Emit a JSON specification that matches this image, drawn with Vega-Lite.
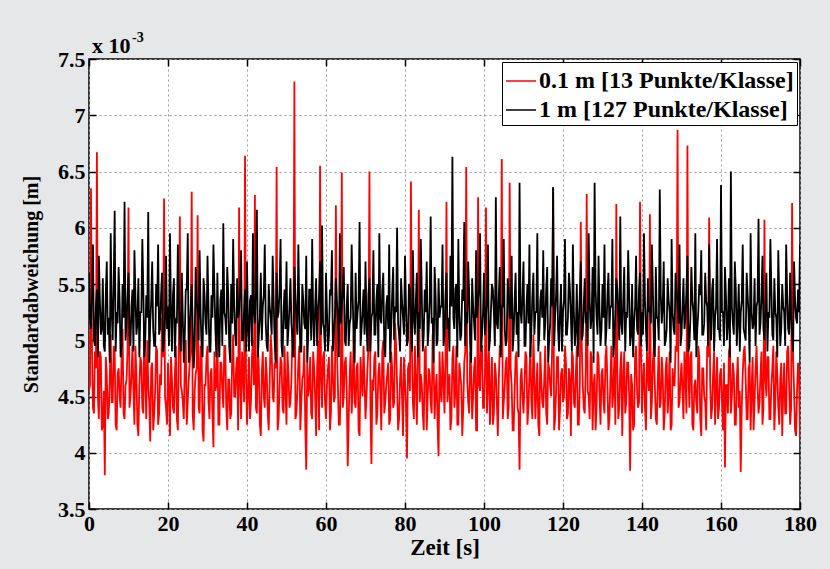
{
"$schema": "https://vega.github.io/schema/vega-lite/v6.json",
"width": 711, "height": 450,
"autosize": {"type": "none"},
"padding": {"left": 89, "top": 59, "right": 30, "bottom": 60},
"background": "#e6e7e9",
"config": {"view": {"fill": "white", "stroke": "black", "strokeWidth": 1.5}, "font": "Liberation Serif"},
"resolve": {"axis": {"x": "independent", "y": "independent"}},
"layer": [
{
"data": {"values": [
{"t":0,"r":4.55,"b":5.60},{"t":0.25,"r":4.60,"b":5.20},{"t":0.5,"r":6.35,"b":5.10},{"t":0.75,"r":4.95,"b":5.45},{"t":1,"r":4.40,"b":5.85},{"t":1.25,"r":4.35,"b":5.00},{"t":1.5,"r":4.90,"b":4.95},{"t":1.75,"r":4.75,"b":5.30},{"t":2,"r":6.67,"b":5.45},{"t":2.25,"r":4.50,"b":4.85},
{"t":2.5,"r":4.30,"b":5.75},{"t":2.75,"r":4.90,"b":5.35},{"t":3,"r":4.85,"b":5.05},{"t":3.25,"r":4.20,"b":5.10},{"t":3.5,"r":4.25,"b":5.55},{"t":3.75,"r":4.55,"b":4.95},{"t":4,"r":3.80,"b":4.90},{"t":4.25,"r":4.85,"b":5.40},{"t":4.5,"r":4.70,"b":5.70},{"t":4.75,"r":4.30,"b":5.05},
{"t":5,"r":4.35,"b":5.20},{"t":5.25,"r":4.65,"b":4.80},{"t":5.5,"r":5.05,"b":5.95},{"t":5.75,"r":4.45,"b":5.25},{"t":6,"r":4.45,"b":5.00},{"t":6.25,"r":4.95,"b":5.50},{"t":6.5,"r":4.90,"b":6.15},{"t":6.75,"r":4.25,"b":4.90},{"t":7,"r":4.20,"b":5.25},{"t":7.25,"r":4.70,"b":5.15},
{"t":7.5,"r":4.75,"b":5.65},{"t":7.75,"r":4.50,"b":5.35},{"t":8,"r":4.40,"b":4.85},{"t":8.25,"r":4.85,"b":4.95},{"t":8.5,"r":5.10,"b":5.50},{"t":8.75,"r":4.35,"b":5.20},{"t":9,"r":4.30,"b":6.23},{"t":9.25,"r":4.60,"b":5.00},{"t":9.5,"r":4.65,"b":5.15},{"t":9.75,"r":4.90,"b":5.40},
{"t":10,"r":6.18,"b":5.60},{"t":10.25,"r":4.40,"b":5.05},{"t":10.5,"r":4.50,"b":4.95},{"t":10.75,"r":4.70,"b":5.30},{"t":11,"r":4.95,"b":5.45},{"t":11.25,"r":4.55,"b":4.90},{"t":11.5,"r":4.25,"b":5.80},{"t":11.75,"r":4.95,"b":5.40},{"t":12,"r":4.70,"b":5.05},{"t":12.25,"r":4.25,"b":5.15},
{"t":12.5,"r":4.15,"b":5.55},{"t":12.75,"r":4.60,"b":4.85},{"t":13,"r":4.85,"b":5.25},{"t":13.25,"r":4.80,"b":5.25},{"t":13.5,"r":4.40,"b":5.90},{"t":13.75,"r":4.35,"b":5.45},{"t":14,"r":5.15,"b":4.85},{"t":14.25,"r":4.65,"b":5.00},{"t":14.5,"r":4.30,"b":5.40},{"t":14.75,"r":5.00,"b":5.20},
{"t":15,"r":4.60,"b":6.14},{"t":15.25,"r":4.45,"b":4.80},{"t":15.5,"r":4.10,"b":5.15},{"t":15.75,"r":4.75,"b":5.35},{"t":16,"r":4.80,"b":5.70},{"t":16.25,"r":4.20,"b":5.10},{"t":16.5,"r":4.35,"b":4.95},{"t":16.75,"r":4.55,"b":4.95},{"t":17,"r":4.95,"b":5.50},{"t":17.25,"r":4.90,"b":5.30},
{"t":17.5,"r":4.25,"b":5.85},{"t":17.75,"r":4.35,"b":5.05},{"t":18,"r":4.70,"b":5.10},{"t":18.25,"r":4.60,"b":5.40},{"t":18.5,"r":5.20,"b":5.60},{"t":18.75,"r":4.85,"b":4.90},{"t":19,"r":6.26,"b":5.00},{"t":19.25,"r":4.50,"b":5.20},{"t":19.5,"r":4.40,"b":5.75},{"t":19.75,"r":4.25,"b":5.10},
{"t":20,"r":4.80,"b":5.30},{"t":20.25,"r":4.55,"b":4.95},{"t":20.5,"r":4.15,"b":5.95},{"t":20.75,"r":4.85,"b":5.25},{"t":21,"r":4.65,"b":4.90},{"t":21.25,"r":4.40,"b":5.40},{"t":21.5,"r":4.35,"b":5.55},{"t":21.75,"r":4.70,"b":4.85},{"t":22,"r":4.95,"b":5.20},{"t":22.25,"r":4.30,"b":5.15},
{"t":22.5,"r":4.20,"b":5.85},{"t":22.75,"r":4.95,"b":5.35},{"t":23,"r":6.10,"b":5.05},{"t":23.25,"r":4.60,"b":4.90},{"t":23.5,"r":4.55,"b":5.60},{"t":23.75,"r":4.45,"b":5.20},{"t":24,"r":4.30,"b":4.80},{"t":24.25,"r":4.80,"b":5.05},{"t":24.5,"r":5.00,"b":5.45},{"t":24.75,"r":4.25,"b":5.45},
{"t":25,"r":4.45,"b":5.95},{"t":25.25,"r":4.65,"b":4.80},{"t":25.5,"r":4.80,"b":5.10},{"t":25.75,"r":4.90,"b":5.30},{"t":26,"r":6.32,"b":5.50},{"t":26.25,"r":4.35,"b":5.10},{"t":26.5,"r":4.20,"b":4.75},{"t":26.75,"r":4.55,"b":4.95},{"t":27,"r":4.70,"b":5.65},{"t":27.25,"r":4.75,"b":5.35},
{"t":27.5,"r":6.11,"b":5.25},{"t":27.75,"r":4.40,"b":5.00},{"t":28,"r":4.35,"b":5.80},{"t":28.25,"r":4.95,"b":5.25},{"t":28.5,"r":4.90,"b":4.95},{"t":28.75,"r":4.20,"b":4.85},{"t":29,"r":4.10,"b":5.55},{"t":29.25,"r":4.60,"b":5.40},{"t":29.5,"r":4.60,"b":5.15},{"t":29.75,"r":4.85,"b":5.05},
{"t":30,"r":4.95,"b":5.75},{"t":30.25,"r":4.45,"b":5.30},{"t":30.5,"r":4.30,"b":4.90},{"t":30.75,"r":4.70,"b":4.90},{"t":31,"r":4.75,"b":5.40},{"t":31.25,"r":4.35,"b":5.20},{"t":31.5,"r":4.05,"b":5.85},{"t":31.75,"r":4.90,"b":5.45},{"t":32,"r":4.55,"b":5.10},{"t":32.25,"r":4.60,"b":4.85},
{"t":32.5,"r":5.10,"b":5.60},{"t":32.75,"r":4.25,"b":5.10},{"t":33,"r":4.25,"b":4.85},{"t":33.25,"r":4.80,"b":5.35},{"t":33.5,"r":4.80,"b":5.45},{"t":33.75,"r":4.55,"b":4.95},{"t":34,"r":4.40,"b":6.04},{"t":34.25,"r":4.95,"b":5.25},{"t":34.5,"r":4.95,"b":5.20},{"t":34.75,"r":4.40,"b":5.05},
{"t":35,"r":4.20,"b":5.65},{"t":35.25,"r":4.65,"b":5.40},{"t":35.5,"r":4.65,"b":4.95},{"t":35.75,"r":4.30,"b":4.80},{"t":36,"r":4.35,"b":5.50},{"t":36.25,"r":4.85,"b":5.15},{"t":36.5,"r":5.05,"b":5.90},{"t":36.75,"r":4.50,"b":5.30},{"t":37,"r":4.50,"b":5.05},{"t":37.25,"r":4.75,"b":4.95},
{"t":37.5,"r":4.85,"b":5.55},{"t":37.75,"r":4.20,"b":5.20},{"t":38,"r":6.18,"b":5.25},{"t":38.25,"r":4.60,"b":5.45},{"t":38.5,"r":4.30,"b":5.80},{"t":38.75,"r":4.90,"b":5.00},{"t":39,"r":4.70,"b":5.00},{"t":39.25,"r":4.45,"b":5.25},{"t":39.5,"r":6.64,"b":5.45},{"t":39.75,"r":4.70,"b":4.90},
{"t":40,"r":4.25,"b":5.70},{"t":40.25,"r":4.55,"b":5.10},{"t":40.5,"r":4.85,"b":4.90},{"t":40.75,"r":4.30,"b":5.35},{"t":41,"r":4.45,"b":5.40},{"t":41.25,"r":4.85,"b":4.95},{"t":41.5,"r":5.00,"b":5.95},{"t":41.75,"r":4.60,"b":5.25},{"t":42,"r":6.29,"b":5.15},{"t":42.25,"r":4.40,"b":5.45},
{"t":42.5,"r":4.35,"b":6.16},{"t":42.75,"r":4.95,"b":4.85},{"t":43,"r":4.75,"b":5.05},{"t":43.25,"r":4.25,"b":5.20},{"t":43.5,"r":4.15,"b":5.60},{"t":43.75,"r":4.70,"b":5.00},{"t":44,"r":4.90,"b":5.30},{"t":44.25,"r":4.50,"b":5.40},{"t":44.5,"r":4.40,"b":5.85},{"t":44.75,"r":4.85,"b":5.15},
{"t":45,"r":4.70,"b":4.95},{"t":45.25,"r":4.35,"b":4.90},{"t":45.5,"r":4.20,"b":5.50},{"t":45.75,"r":4.65,"b":5.30},{"t":46,"r":5.05,"b":5.20},{"t":46.25,"r":4.90,"b":5.05},{"t":46.5,"r":4.50,"b":5.75},{"t":46.75,"r":4.45,"b":5.35},{"t":47,"r":4.80,"b":5.00},{"t":47.25,"r":4.75,"b":4.80},
{"t":47.5,"r":6.54,"b":5.60},{"t":47.75,"r":4.20,"b":5.20},{"t":48,"r":4.30,"b":5.25},{"t":48.25,"r":4.60,"b":5.45},{"t":48.5,"r":4.85,"b":5.90},{"t":48.75,"r":4.80,"b":4.95},{"t":49,"r":4.40,"b":4.85},{"t":49.25,"r":4.35,"b":5.25},{"t":49.5,"r":4.95,"b":5.45},{"t":49.75,"r":4.55,"b":5.10},
{"t":50,"r":4.25,"b":5.70},{"t":50.25,"r":4.90,"b":4.95},{"t":50.5,"r":4.70,"b":5.10},{"t":50.75,"r":4.40,"b":5.30},{"t":51,"r":4.45,"b":5.55},{"t":51.25,"r":4.65,"b":5.15},{"t":51.5,"r":5.10,"b":5.00},{"t":51.75,"r":4.85,"b":4.85},{"t":52,"r":7.30,"b":5.65},{"t":52.25,"r":4.30,"b":5.40},
{"t":52.5,"r":4.35,"b":5.20},{"t":52.75,"r":4.55,"b":5.05},{"t":53,"r":4.80,"b":5.85},{"t":53.25,"r":4.95,"b":5.25},{"t":53.5,"r":4.20,"b":4.90},{"t":53.75,"r":4.45,"b":4.90},{"t":54,"r":4.65,"b":5.50},{"t":54.25,"r":4.70,"b":5.35},{"t":54.5,"r":4.95,"b":5.15},{"t":54.75,"r":4.25,"b":5.10},
{"t":55,"r":3.85,"b":5.75},{"t":55.25,"r":4.80,"b":4.80},{"t":55.5,"r":4.50,"b":5.05},{"t":55.75,"r":4.60,"b":5.45},{"t":56,"r":4.85,"b":5.45},{"t":56.25,"r":4.35,"b":5.00},{"t":56.5,"r":4.30,"b":5.90},{"t":56.75,"r":4.90,"b":5.20},{"t":57,"r":4.75,"b":4.95},{"t":57.25,"r":4.50,"b":5.30},
{"t":57.5,"r":4.15,"b":5.55},{"t":57.75,"r":4.75,"b":4.95},{"t":58,"r":5.00,"b":5.25},{"t":58.25,"r":4.20,"b":5.40},{"t":58.5,"r":6.55,"b":5.70},{"t":58.75,"r":4.65,"b":5.05},{"t":59,"r":4.40,"b":6.02},{"t":59.25,"r":4.85,"b":5.15},{"t":59.5,"r":4.90,"b":5.10},{"t":59.75,"r":4.45,"b":4.90},
{"t":60,"r":4.30,"b":5.60},{"t":60.25,"r":4.60,"b":5.25},{"t":60.5,"r":4.75,"b":4.90},{"t":60.75,"r":4.85,"b":5.05},{"t":61,"r":4.20,"b":5.45},{"t":61.25,"r":4.35,"b":5.40},{"t":61.5,"r":4.95,"b":5.80},{"t":61.75,"r":4.70,"b":4.90},{"t":62,"r":4.45,"b":5.05},{"t":62.25,"r":4.50,"b":5.20},
{"t":62.5,"r":6.20,"b":5.55},{"t":62.75,"r":4.95,"b":5.35},{"t":63,"r":4.60,"b":5.20},{"t":63.25,"r":4.25,"b":4.85},{"t":63.5,"r":4.25,"b":5.95},{"t":63.75,"r":4.65,"b":5.15},{"t":64,"r":6.49,"b":5.30},{"t":64.25,"r":4.40,"b":5.45},{"t":64.5,"r":4.50,"b":5.65},{"t":64.75,"r":4.80,"b":5.00},
{"t":65,"r":4.85,"b":4.95},{"t":65.25,"r":4.55,"b":5.30},{"t":65.5,"r":3.88,"b":5.50},{"t":65.75,"r":4.30,"b":4.95},{"t":66,"r":4.70,"b":5.15},{"t":66.25,"r":4.90,"b":5.20},{"t":66.5,"r":4.35,"b":5.85},{"t":66.75,"r":4.60,"b":5.40},{"t":67,"r":5.05,"b":5.00},{"t":67.25,"r":4.45,"b":4.80},
{"t":67.5,"r":4.40,"b":5.60},{"t":67.75,"r":4.75,"b":5.10},{"t":68,"r":4.80,"b":5.25},{"t":68.25,"r":4.20,"b":5.35},{"t":68.5,"r":4.15,"b":6.05},{"t":68.75,"r":4.85,"b":4.95},{"t":69,"r":4.65,"b":5.10},{"t":69.25,"r":4.50,"b":5.25},{"t":69.5,"r":4.95,"b":5.45},{"t":69.75,"r":4.65,"b":5.05},
{"t":70,"r":4.30,"b":5.70},{"t":70.25,"r":4.50,"b":5.15},{"t":70.5,"r":4.75,"b":4.90},{"t":70.75,"r":4.95,"b":5.40},{"t":71,"r":6.50,"b":5.55},{"t":71.25,"r":4.40,"b":4.90},{"t":71.5,"r":3.90,"b":5.20},{"t":71.75,"r":4.65,"b":5.25},{"t":72,"r":4.55,"b":5.80},{"t":72.25,"r":4.85,"b":5.05},
{"t":72.5,"r":4.90,"b":5.05},{"t":72.75,"r":4.25,"b":5.35},{"t":73,"r":4.35,"b":5.50},{"t":73.25,"r":4.70,"b":4.85},{"t":73.5,"r":4.80,"b":5.95},{"t":73.75,"r":4.55,"b":5.20},{"t":74,"r":4.20,"b":5.15},{"t":74.25,"r":4.90,"b":5.45},{"t":74.5,"r":5.00,"b":5.60},{"t":74.75,"r":4.35,"b":4.95},
{"t":75,"r":4.45,"b":4.85},{"t":75.25,"r":4.60,"b":5.30},{"t":75.5,"r":4.70,"b":5.40},{"t":75.75,"r":4.80,"b":5.10},{"t":76,"r":4.25,"b":5.85},{"t":76.25,"r":4.30,"b":4.80},{"t":76.5,"r":4.90,"b":5.10},{"t":76.75,"r":4.75,"b":5.40},{"t":77,"r":4.40,"b":5.65},{"t":77.25,"r":4.45,"b":5.00},
{"t":77.5,"r":5.15,"b":5.30},{"t":77.75,"r":4.95,"b":5.25},{"t":78,"r":4.60,"b":6.00},{"t":78.25,"r":4.20,"b":5.15},{"t":78.5,"r":4.30,"b":5.05},{"t":78.75,"r":4.65,"b":4.90},{"t":79,"r":4.85,"b":5.55},{"t":79.25,"r":4.50,"b":5.35},{"t":79.5,"r":4.15,"b":5.20},{"t":79.75,"r":4.85,"b":5.05},
{"t":80,"r":4.65,"b":5.75},{"t":80.25,"r":4.40,"b":5.30},{"t":80.5,"r":3.95,"b":4.95},{"t":80.75,"r":4.75,"b":5.00},{"t":81,"r":4.80,"b":5.50},{"t":81.25,"r":4.55,"b":5.45},{"t":81.5,"r":6.41,"b":5.15},{"t":81.75,"r":4.90,"b":4.90},{"t":82,"r":4.45,"b":5.80},{"t":82.25,"r":4.30,"b":5.20},
{"t":82.5,"r":4.95,"b":5.05},{"t":82.75,"r":4.65,"b":5.35},{"t":83,"r":4.25,"b":5.60},{"t":83.25,"r":4.85,"b":4.85},{"t":83.5,"r":6.16,"b":5.25},{"t":83.75,"r":4.45,"b":5.10},{"t":84,"r":4.70,"b":5.90},{"t":84.25,"r":4.60,"b":5.40},{"t":84.5,"r":4.35,"b":4.90},{"t":84.75,"r":4.20,"b":5.05},
{"t":85,"r":4.90,"b":5.45},{"t":85.25,"r":4.95,"b":5.25},{"t":85.5,"r":4.20,"b":5.70},{"t":85.75,"r":4.50,"b":4.95},{"t":86,"r":4.75,"b":5.10},{"t":86.25,"r":4.70,"b":5.35},{"t":86.5,"r":4.45,"b":6.10},{"t":86.75,"r":4.35,"b":5.15},{"t":87,"r":5.05,"b":5.20},{"t":87.25,"r":4.80,"b":4.80},
{"t":87.5,"r":4.30,"b":5.65},{"t":87.75,"r":4.55,"b":5.40},{"t":88,"r":4.70,"b":4.95},{"t":88.25,"r":4.25,"b":5.00},{"t":88.5,"r":3.97,"b":5.55},{"t":88.75,"r":4.90,"b":5.20},{"t":89,"r":4.55,"b":5.30},{"t":89.25,"r":4.45,"b":5.30},{"t":89.5,"r":4.90,"b":5.85},{"t":89.75,"r":4.65,"b":4.95},
{"t":90,"r":4.35,"b":5.05},{"t":90.25,"r":4.85,"b":5.40},{"t":90.5,"r":6.23,"b":5.60},{"t":90.75,"r":4.45,"b":5.10},{"t":91,"r":4.60,"b":5.20},{"t":91.25,"r":4.70,"b":4.90},{"t":91.5,"r":4.20,"b":5.75},{"t":91.75,"r":4.30,"b":5.30},{"t":92,"r":4.85,"b":6.63},{"t":92.25,"r":4.95,"b":5.20},
{"t":92.5,"r":4.40,"b":5.10},{"t":92.75,"r":4.55,"b":5.45},{"t":93,"r":4.95,"b":5.50},{"t":93.25,"r":4.25,"b":4.85},{"t":93.5,"r":4.25,"b":5.90},{"t":93.75,"r":4.80,"b":5.25},{"t":94,"r":4.70,"b":5.00},{"t":94.25,"r":4.60,"b":5.05},{"t":94.5,"r":4.15,"b":5.45},{"t":94.75,"r":4.40,"b":5.35},
{"t":95,"r":4.80,"b":6.05},{"t":95.25,"r":4.90,"b":4.95},{"t":95.5,"r":6.54,"b":5.25},{"t":95.75,"r":4.65,"b":5.15},{"t":96,"r":4.45,"b":5.70},{"t":96.25,"r":4.35,"b":5.40},{"t":96.5,"r":4.90,"b":4.95},{"t":96.75,"r":4.75,"b":4.80},{"t":97,"r":4.30,"b":5.55},{"t":97.25,"r":4.50,"b":5.30},
{"t":97.5,"r":4.75,"b":5.15},{"t":97.75,"r":4.85,"b":5.00},{"t":98,"r":4.20,"b":5.80},{"t":98.25,"r":4.20,"b":5.20},{"t":98.5,"r":6.27,"b":5.35},{"t":98.75,"r":4.60,"b":5.45},{"t":99,"r":4.55,"b":5.95},{"t":99.25,"r":4.95,"b":4.90},{"t":99.5,"r":4.95,"b":5.05},{"t":99.75,"r":4.40,"b":5.25},
{"t":100,"r":4.40,"b":5.60},{"t":100.25,"r":4.70,"b":5.05},{"t":100.5,"r":6.18,"b":5.20},{"t":100.75,"r":4.35,"b":5.35},{"t":101,"r":4.65,"b":5.85},{"t":101.25,"r":4.90,"b":4.90},{"t":101.5,"r":4.25,"b":5.00},{"t":101.75,"r":4.55,"b":5.25},{"t":102,"r":4.85,"b":5.50},{"t":102.25,"r":4.25,"b":5.45},
{"t":102.5,"r":4.35,"b":5.25},{"t":102.75,"r":4.80,"b":4.95},{"t":103,"r":4.70,"b":6.27},{"t":103.25,"r":4.45,"b":5.15},{"t":103.5,"r":4.15,"b":5.10},{"t":103.75,"r":4.65,"b":5.40},{"t":104,"r":4.95,"b":5.65},{"t":104.25,"r":4.95,"b":4.85},{"t":104.5,"r":6.61,"b":5.30},{"t":104.75,"r":4.30,"b":5.30},
{"t":105,"r":4.45,"b":5.90},{"t":105.25,"r":4.60,"b":5.10},{"t":105.5,"r":4.80,"b":4.95},{"t":105.75,"r":4.85,"b":5.00},{"t":106,"r":4.30,"b":5.55},{"t":106.25,"r":4.40,"b":5.45},{"t":106.5,"r":6.40,"b":5.20},{"t":106.75,"r":4.75,"b":5.20},{"t":107,"r":4.60,"b":5.75},{"t":107.25,"r":4.20,"b":4.90},
{"t":107.5,"r":4.20,"b":5.05},{"t":107.75,"r":4.55,"b":5.35},{"t":108,"r":4.85,"b":5.60},{"t":108.25,"r":4.90,"b":5.05},{"t":108.5,"r":4.40,"b":5.25},{"t":108.75,"r":4.35,"b":4.85},{"t":109,"r":3.85,"b":6.40},{"t":109.25,"r":4.65,"b":5.25},{"t":109.5,"r":4.75,"b":5.15},{"t":109.75,"r":4.50,"b":5.40},
{"t":110,"r":4.35,"b":5.70},{"t":110.25,"r":4.60,"b":4.95},{"t":110.5,"r":4.90,"b":4.95},{"t":110.75,"r":4.85,"b":5.30},{"t":111,"r":4.25,"b":5.50},{"t":111.25,"r":4.40,"b":5.15},{"t":111.5,"r":4.70,"b":5.85},{"t":111.75,"r":4.95,"b":4.85},{"t":112,"r":4.45,"b":5.10},{"t":112.25,"r":4.30,"b":5.40},
{"t":112.5,"r":5.05,"b":5.60},{"t":112.75,"r":4.70,"b":5.05},{"t":113,"r":4.30,"b":5.25},{"t":113.25,"r":4.55,"b":5.25},{"t":113.5,"r":4.80,"b":5.95},{"t":113.75,"r":4.25,"b":4.90},{"t":114,"r":4.15,"b":5.05},{"t":114.25,"r":4.90,"b":5.35},{"t":114.5,"r":4.65,"b":5.45},{"t":114.75,"r":4.45,"b":5.20},
{"t":115,"r":4.40,"b":5.80},{"t":115.25,"r":4.65,"b":5.00},{"t":115.5,"r":4.95,"b":5.15},{"t":115.75,"r":4.35,"b":5.45},{"t":116,"r":4.25,"b":5.65},{"t":116.25,"r":4.80,"b":4.80},{"t":116.5,"r":4.75,"b":5.00},{"t":116.75,"r":4.60,"b":5.15},{"t":117,"r":4.50,"b":5.55},{"t":117.25,"r":4.95,"b":5.30},
{"t":117.5,"r":6.36,"b":6.36},{"t":117.75,"r":4.20,"b":4.95},{"t":118,"r":4.30,"b":5.20},{"t":118.25,"r":4.55,"b":5.40},{"t":118.5,"r":4.85,"b":5.75},{"t":118.75,"r":4.85,"b":5.10},{"t":119,"r":4.20,"b":4.90},{"t":119.25,"r":4.40,"b":5.25},{"t":119.5,"r":4.70,"b":5.50},{"t":119.75,"r":4.75,"b":4.90},
{"t":120,"r":4.45,"b":5.25},{"t":120.25,"r":4.50,"b":5.35},{"t":120.5,"r":4.95,"b":5.90},{"t":120.75,"r":4.80,"b":5.05},{"t":121,"r":4.30,"b":5.05},{"t":121.25,"r":4.35,"b":5.20},{"t":121.5,"r":4.75,"b":5.60},{"t":121.75,"r":4.65,"b":5.45},{"t":122,"r":4.15,"b":5.20},{"t":122.25,"r":4.90,"b":4.90},
{"t":122.5,"r":4.85,"b":5.85},{"t":122.75,"r":4.45,"b":5.25},{"t":123,"r":4.40,"b":4.95},{"t":123.25,"r":4.70,"b":5.10},{"t":123.5,"r":4.95,"b":5.50},{"t":123.75,"r":4.25,"b":4.85},{"t":124,"r":4.25,"b":5.15},{"t":124.25,"r":4.60,"b":5.40},{"t":124.5,"r":6.05,"b":5.70},{"t":124.75,"r":4.95,"b":5.00},
{"t":125,"r":4.60,"b":5.05},{"t":125.25,"r":4.40,"b":5.30},{"t":125.5,"r":4.35,"b":5.55},{"t":125.75,"r":4.75,"b":5.15},{"t":126,"r":6.30,"b":5.25},{"t":126.25,"r":4.55,"b":4.95},{"t":126.5,"r":4.50,"b":5.95},{"t":126.75,"r":4.30,"b":5.35},{"t":127,"r":4.90,"b":5.10},{"t":127.25,"r":4.85,"b":5.20},
{"t":127.5,"r":4.20,"b":5.65},{"t":127.75,"r":4.60,"b":4.80},{"t":128,"r":4.70,"b":6.40},{"t":128.25,"r":4.20,"b":5.45},{"t":128.5,"r":4.40,"b":5.20},{"t":128.75,"r":4.90,"b":5.05},{"t":129,"r":4.85,"b":5.75},{"t":129.25,"r":4.50,"b":5.25},{"t":129.5,"r":4.25,"b":4.95},{"t":129.75,"r":4.70,"b":5.10},
{"t":130,"r":4.75,"b":5.50},{"t":130.25,"r":4.45,"b":5.20},{"t":130.5,"r":4.35,"b":5.85},{"t":130.75,"r":4.85,"b":4.95},{"t":131,"r":4.95,"b":5.10},{"t":131.25,"r":4.60,"b":5.40},{"t":131.5,"r":4.20,"b":5.60},{"t":131.75,"r":4.30,"b":5.10},{"t":132,"r":4.65,"b":5.30},{"t":132.25,"r":4.95,"b":5.30},
{"t":132.5,"r":4.40,"b":5.90},{"t":132.75,"r":4.55,"b":4.85},{"t":133,"r":4.85,"b":5.00},{"t":133.25,"r":4.25,"b":5.25},{"t":133.5,"r":6.21,"b":5.55},{"t":133.75,"r":4.75,"b":5.45},{"t":134,"r":4.30,"b":5.20},{"t":134.25,"r":4.40,"b":5.00},{"t":134.5,"r":4.75,"b":6.10},{"t":134.75,"r":4.90,"b":5.15},
{"t":135,"r":4.15,"b":5.05},{"t":135.25,"r":4.65,"b":5.35},{"t":135.5,"r":4.90,"b":5.65},{"t":135.75,"r":4.35,"b":4.90},{"t":136,"r":4.45,"b":5.25},{"t":136.25,"r":4.80,"b":5.20},{"t":136.5,"r":4.80,"b":5.80},{"t":136.75,"r":4.50,"b":5.40},{"t":137,"r":3.84,"b":4.95},{"t":137.25,"r":4.70,"b":5.05},
{"t":137.5,"r":4.60,"b":5.50},{"t":137.75,"r":4.20,"b":4.85},{"t":138,"r":4.25,"b":5.15},{"t":138.25,"r":4.85,"b":5.30},{"t":138.5,"r":4.95,"b":5.75},{"t":138.75,"r":4.55,"b":5.10},{"t":139,"r":4.40,"b":5.05},{"t":139.25,"r":4.45,"b":5.45},{"t":139.5,"r":6.23,"b":5.60},{"t":139.75,"r":4.90,"b":4.95},
{"t":140,"r":4.35,"b":5.25},{"t":140.25,"r":4.65,"b":5.05},{"t":140.5,"r":4.80,"b":5.95},{"t":140.75,"r":4.40,"b":5.35},{"t":141,"r":4.20,"b":5.10},{"t":141.25,"r":4.90,"b":4.90},{"t":141.5,"r":4.70,"b":5.55},{"t":141.75,"r":4.55,"b":5.25},{"t":142,"r":6.12,"b":5.30},{"t":142.25,"r":4.30,"b":5.15},
{"t":142.5,"r":4.45,"b":5.85},{"t":142.75,"r":4.80,"b":5.45},{"t":143,"r":4.95,"b":4.95},{"t":143.25,"r":4.60,"b":4.85},{"t":143.5,"r":4.30,"b":5.65},{"t":143.75,"r":4.25,"b":5.20},{"t":144,"r":4.65,"b":5.20},{"t":144.25,"r":4.95,"b":5.00},{"t":144.5,"r":4.40,"b":6.34},{"t":144.75,"r":4.45,"b":5.40},
{"t":145,"r":4.85,"b":5.15},{"t":145.25,"r":4.70,"b":5.30},{"t":145.5,"r":4.20,"b":5.70},{"t":145.75,"r":4.35,"b":4.95},{"t":146,"r":4.75,"b":5.00},{"t":146.25,"r":4.85,"b":5.10},{"t":146.5,"r":4.35,"b":5.55},{"t":146.75,"r":4.55,"b":5.35},{"t":147,"r":4.90,"b":5.25},{"t":147.25,"r":4.20,"b":4.80},
{"t":147.5,"r":4.25,"b":5.90},{"t":147.75,"r":4.75,"b":5.25},{"t":148,"r":4.60,"b":5.10},{"t":148.25,"r":4.60,"b":5.05},{"t":148.5,"r":4.95,"b":5.60},{"t":148.75,"r":4.90,"b":5.45},{"t":149,"r":6.87,"b":5.30},{"t":149.25,"r":4.40,"b":5.15},{"t":149.5,"r":4.45,"b":5.85},{"t":149.75,"r":4.65,"b":4.95},
{"t":150,"r":4.80,"b":5.05},{"t":150.25,"r":4.55,"b":5.30},{"t":150.5,"r":4.30,"b":5.55},{"t":150.75,"r":4.90,"b":5.10},{"t":151,"r":4.70,"b":5.20},{"t":151.25,"r":4.35,"b":5.45},{"t":151.5,"r":6.73,"b":5.75},{"t":151.75,"r":4.70,"b":4.90},{"t":152,"r":4.40,"b":4.95},{"t":152.25,"r":4.85,"b":5.20},
{"t":152.5,"r":4.90,"b":5.65},{"t":152.75,"r":4.25,"b":5.35},{"t":153,"r":4.20,"b":5.25},{"t":153.25,"r":4.60,"b":5.00},{"t":153.5,"r":4.65,"b":5.95},{"t":153.75,"r":4.45,"b":4.85},{"t":154,"r":4.35,"b":5.10},{"t":154.25,"r":4.95,"b":5.25},{"t":154.5,"r":4.85,"b":5.50},{"t":154.75,"r":4.30,"b":5.40},
{"t":155,"r":4.15,"b":5.80},{"t":155.25,"r":4.75,"b":5.05},{"t":155.5,"r":4.75,"b":5.05},{"t":155.75,"r":4.50,"b":5.15},{"t":156,"r":4.45,"b":5.60},{"t":156.25,"r":4.20,"b":5.35},{"t":156.5,"r":4.95,"b":5.30},{"t":156.75,"r":4.85,"b":4.95},{"t":157,"r":6.09,"b":5.85},{"t":157.25,"r":4.65,"b":5.20},
{"t":157.5,"r":4.30,"b":5.00},{"t":157.75,"r":4.40,"b":5.45},{"t":158,"r":4.70,"b":5.55},{"t":158.25,"r":4.90,"b":4.90},{"t":158.5,"r":4.25,"b":5.20},{"t":158.75,"r":4.55,"b":5.30},{"t":159,"r":4.85,"b":5.90},{"t":159.25,"r":4.30,"b":5.10},{"t":159.5,"r":4.40,"b":5.10},{"t":159.75,"r":4.70,"b":5.00},
{"t":160,"r":4.75,"b":6.38},{"t":160.25,"r":4.45,"b":5.25},{"t":160.5,"r":4.20,"b":5.25},{"t":160.75,"r":4.80,"b":4.95},{"t":161,"r":3.87,"b":5.65},{"t":161.25,"r":4.60,"b":5.40},{"t":161.5,"r":4.60,"b":5.00},{"t":161.75,"r":4.35,"b":5.15},{"t":162,"r":4.90,"b":5.55},{"t":162.25,"r":4.95,"b":4.85},
{"t":162.5,"r":4.35,"b":6.50},{"t":162.75,"r":4.50,"b":5.30},{"t":163,"r":4.80,"b":5.15},{"t":163.25,"r":4.70,"b":5.05},{"t":163.5,"r":4.25,"b":5.70},{"t":163.75,"r":4.25,"b":5.45},{"t":164,"r":4.65,"b":4.95},{"t":164.25,"r":4.85,"b":5.20},{"t":164.5,"r":4.40,"b":5.50},{"t":164.75,"r":4.55,"b":4.90},
{"t":165,"r":3.83,"b":5.25},{"t":165.25,"r":4.40,"b":5.35},{"t":165.5,"r":4.70,"b":5.85},{"t":165.75,"r":4.90,"b":5.10},{"t":166,"r":4.95,"b":5.05},{"t":166.25,"r":4.65,"b":5.00},{"t":166.5,"r":4.30,"b":5.60},{"t":166.75,"r":4.30,"b":5.40},{"t":167,"r":4.75,"b":5.20},{"t":167.25,"r":4.80,"b":4.80},
{"t":167.5,"r":4.20,"b":5.95},{"t":167.75,"r":4.55,"b":5.25},{"t":168,"r":4.85,"b":5.10},{"t":168.25,"r":4.20,"b":5.15},{"t":168.5,"r":4.45,"b":5.55},{"t":168.75,"r":4.75,"b":4.95},{"t":169,"r":4.95,"b":5.30},{"t":169.25,"r":4.60,"b":5.35},{"t":169.5,"r":4.35,"b":6.08},{"t":169.75,"r":4.45,"b":5.05},
{"t":170,"r":4.70,"b":5.15},{"t":170.25,"r":4.90,"b":5.40},{"t":170.5,"r":4.25,"b":5.75},{"t":170.75,"r":4.40,"b":5.10},{"t":171,"r":6.07,"b":5.00},{"t":171.25,"r":4.65,"b":5.30},{"t":171.5,"r":4.50,"b":5.60},{"t":171.75,"r":4.85,"b":4.90},{"t":172,"r":4.85,"b":5.25},{"t":172.25,"r":4.30,"b":5.20},
{"t":172.5,"r":4.30,"b":5.90},{"t":172.75,"r":4.60,"b":5.45},{"t":173,"r":4.75,"b":5.05},{"t":173.25,"r":4.95,"b":5.00},{"t":173.5,"r":4.20,"b":5.55},{"t":173.75,"r":4.45,"b":5.25},{"t":174,"r":4.90,"b":5.20},{"t":174.25,"r":4.70,"b":4.85},{"t":174.5,"r":4.40,"b":5.80},{"t":174.75,"r":4.25,"b":5.35},
{"t":175,"r":4.65,"b":4.95},{"t":175.25,"r":4.80,"b":5.10},{"t":175.5,"r":4.15,"b":5.50},{"t":175.75,"r":4.55,"b":5.30},{"t":176,"r":4.80,"b":5.25},{"t":176.25,"r":4.35,"b":4.95},{"t":176.5,"r":4.35,"b":5.85},{"t":176.75,"r":4.90,"b":5.40},{"t":177,"r":4.95,"b":5.10},{"t":177.25,"r":4.60,"b":5.05},
{"t":177.5,"r":4.25,"b":5.60},{"t":177.75,"r":4.40,"b":5.20},{"t":178,"r":6.22,"b":5.05},{"t":178.25,"r":4.85,"b":4.90},{"t":178.5,"r":4.55,"b":5.70},{"t":178.75,"r":4.20,"b":5.35},{"t":179,"r":4.15,"b":5.20},{"t":179.25,"r":4.55,"b":5.15},{"t":179.5,"r":4.80,"b":5.45},{"t":179.75,"r":4.70,"b":5.25},
{"t":180,"r":4.12,"b":5.85}
]},
"transform": [{"fold": ["r", "b"], "as": ["s", "v"]}],
"mark": {"type": "line", "strokeWidth": 1.8, "clip": true},
"encoding": {
"x": {"field": "t", "type": "quantitative", "scale": {"domain": [0, 180], "nice": false},
 "axis": {"orient": "bottom", "values": [0,20,40,60,80,100,120,140,160,180], "title": "Zeit [s]", "titleFontSize": 23, "titleFontWeight": "bold", "titleColor": "black", "titlePadding": 2,
  "labelFontSize": 22, "labelFontWeight": "bold", "labelColor": "black", "labelPadding": 11, "labelFlush": false, "tickSize": -7, "tickColor": "black", "tickWidth": 1.5, "domain": false,
  "grid": true, "gridDash": [2, 3], "gridColor": "#999999", "gridWidth": 1}},
"y": {"field": "v", "type": "quantitative", "scale": {"domain": [3.5, 7.5], "nice": false, "zero": false},
 "axis": {"orient": "left", "values": [3.5,4,4.5,5,5.5,6,6.5,7,7.5], "format": "~g", "title": "Standardabweichung [m]", "titleFontSize": 20, "titleFontWeight": "bold", "titleColor": "black", "titlePadding": 16,
  "labelFontSize": 22, "labelFontWeight": "bold", "labelColor": "black", "labelPadding": 11, "labelFlush": false, "tickSize": -7, "tickColor": "black", "tickWidth": 1.5, "domain": false,
  "grid": true, "gridDash": [2, 3], "gridColor": "#999999", "gridWidth": 1}},
"color": {"field": "s", "type": "nominal", "scale": {"domain": ["r", "b"], "range": ["#ff0000", "#000000"]},
 "legend": {"orient": "top-right", "offset": 3, "title": null,
  "labelExpr": "datum.value == 'r' ? '0.1 m [13 Punkte/Klasse]' : '1 m [127 Punkte/Klasse]'",
  "labelFont": "Liberation Serif", "labelFontWeight": "bold", "labelFontSize": 24, "labelColor": "black", "labelLimit": 500, "labelOffset": 2,
  "symbolType": "stroke", "symbolSize": 900, "symbolStrokeWidth": 1.5,
  "fillColor": "white", "strokeColor": "black", "padding": 3, "rowPadding": 1, "cornerRadius": 0}}
}
},
{
"data": {"values": [{"t": 0, "v": 3.5}]},
"mark": {"type": "point", "opacity": 0},
"encoding": {
"x": {"field": "t", "type": "quantitative", "scale": {"domain": [0, 180], "nice": false},
 "axis": {"orient": "top", "values": [0,20,40,60,80,100,120,140,160,180], "labels": false, "title": null, "tickSize": -7, "tickColor": "black", "tickWidth": 1.5, "domain": false, "grid": false}},
"y": {"field": "v", "type": "quantitative", "scale": {"domain": [3.5, 7.5], "nice": false, "zero": false},
 "axis": {"orient": "right", "values": [3.5,4,4.5,5,5.5,6,6.5,7,7.5], "labels": false, "title": null, "tickSize": -7, "tickColor": "black", "tickWidth": 1.5, "domain": false, "grid": false}}
}
},
{
"data": {"values": [{"lab": "x 10"}]},
"mark": {"type": "text", "align": "left", "baseline": "alphabetic", "dx": 3, "dy": -6, "fontSize": 22, "fontWeight": "bold", "font": "Liberation Serif", "color": "black"},
"encoding": {"x": {"datum": 0, "type": "quantitative", "axis": null}, "y": {"datum": 7.5, "type": "quantitative", "axis": null}, "text": {"field": "lab"}}
},
{
"data": {"values": [{"lab": "-3"}]},
"mark": {"type": "text", "align": "left", "baseline": "alphabetic", "dx": 43, "dy": -17, "fontSize": 14, "fontWeight": "bold", "font": "Liberation Serif", "color": "black"},
"encoding": {"x": {"datum": 0, "type": "quantitative", "axis": null}, "y": {"datum": 7.5, "type": "quantitative", "axis": null}, "text": {"field": "lab"}}
}
]
}
